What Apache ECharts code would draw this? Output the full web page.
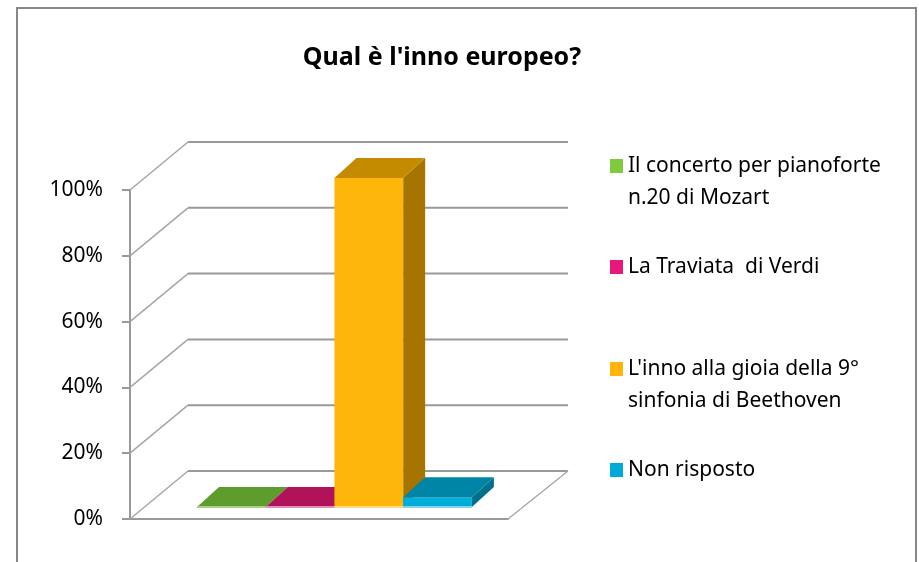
<!DOCTYPE html>
<html>
<head>
<meta charset="utf-8">
<script src="https://cdn.jsdelivr.net/npm/echarts@6/dist/echarts.min.js"></script>
<style>
  html, body { margin: 0; padding: 0; background: #fff; }
  #main { width: 919px; height: 562px; }
</style>
</head>
<body>
<div id="main"></div>
<script>
// dati
var titolo = "Qual è l'inno europeo?";
var risposte = [
    'Il concerto per pianoforte\nn.20 di Mozart',
    'La Traviata  di Verdi',
    "L'inno alla gioia della 9°\nsinfonia di Beethoven",
    'Non risposto'
];
var percentuali = [0, 0, 100, 3];
var tickY = [0, 20, 40, 60, 80, 100];

// colori: legenda, fronte, sopra, lato, bordo chiaro
var colori = [
    { leg: '#7fcb3d', front: '#6aa834', top: '#5f9c2e', side: '#4d8025', edge: '#aacf8c' },
    { leg: '#e8177b', front: '#c8146a', top: '#b1135b', side: '#8e0f49', edge: '#e08fb8' },
    { leg: '#ffb50a', front: '#ffb60a', top: '#c58b00', side: '#a67400', edge: '#ffd987' },
    { leg: '#00aad8', front: '#00acd8', top: '#0085a6', side: '#006f8c', edge: '#85d2ea' }
];

var X_MIN = -0.8, X_MAX = 4.7;
var DX = 58, DY = -48;      // profondita pareti
var FX = 12, FY = -12;      // piano frontale barre
var BDX = 22, BDY = -20;    // profondita barre
var legendCentri = [166, 267, 369, 470];

var main = echarts.init(document.getElementById('main'));

function pareti(params, api) {
    var v = api.value(1);
    var p0 = api.coord([X_MIN, v]);
    var p1 = api.coord([X_MAX, v]);
    var figli = [
        {
            type: 'line',
            shape: { x1: p0[0], y1: p0[1], x2: p0[0] + DX, y2: p0[1] + DY },
            style: { stroke: '#a6a6a6', lineWidth: 1.5 }
        },
        {
            type: 'line',
            shape: { x1: p0[0] + DX, y1: p0[1] + DY, x2: p1[0] + DX + 2, y2: p1[1] + DY },
            style: { stroke: '#999999', lineWidth: 2 }
        }
    ];
    if (v === 0) {
        figli.push({
            type: 'line',
            shape: { x1: p1[0], y1: p1[1], x2: p1[0] + DX + 2, y2: p1[1] + DY },
            style: { stroke: '#a6a6a6', lineWidth: 1.5 }
        });
    }
    return { type: 'group', children: figli };
}

function barra3d(c) {
    return function (params, api) {
        var i = api.value(0), v = api.value(1);
        var b = api.coord([i, 0]);
        var r = api.coord([i + 1, 0]);
        var t = api.coord([i, v]);
        var xL = b[0] + FX, xR = r[0] + FX;
        var yB = b[1] + FY, yT = t[1] + FY;
        return {
            type: 'group',
            children: [
                {
                    type: 'polygon',
                    shape: { points: [[xR, yT], [xR + BDX, yT + BDY], [xR + BDX, yB + BDY], [xR, yB]] },
                    style: { fill: c.side }
                },
                {
                    type: 'rect',
                    shape: { x: xL, y: yT, width: xR - xL, height: yB - yT },
                    style: { fill: c.front }
                },
                {
                    type: 'polygon',
                    shape: { points: [[xL, yT], [xR, yT], [xR + BDX, yT + BDY], [xL + BDX, yT + BDY]] },
                    style: { fill: c.top }
                },
                {
                    type: 'line',
                    shape: { x1: xL, y1: yB, x2: xR, y2: yB },
                    style: { stroke: c.edge, lineWidth: 2 }
                }
            ]
        };
    };
}

var serie = [{
    name: 'pareti',
    type: 'custom',
    silent: true,
    z: 1,
    renderItem: pareti,
    data: tickY.map(function (v) { return [X_MIN, v]; })
}];
risposte.forEach(function (nome, i) {
    serie.push({
        name: nome,
        type: 'custom',
        z: 2 + i,
        itemStyle: { color: colori[i].leg },
        renderItem: barra3d(colori[i]),
        data: [[i, percentuali[i]]]
    });
});

// una legenda per voce: per le voci su due righe si aggiunge una riga vuota
// in testa, cosi il quadratino resta allineato alla prima riga
var legende = risposte.map(function (nome, i) {
    var dueRighe = nome.indexOf('\n') >= 0;
    return {
        data: [nome],
        left: 610,
        top: legendCentri[i] - (dueRighe ? 48 : 16),
        padding: 0,
        icon: 'rect',
        itemWidth: 13,
        itemHeight: 14,
        selectedMode: false,
        formatter: function (n) { return dueRighe ? ' \n' + n : n; },
        textStyle: {
            fontFamily: 'Noto Sans',
            fontSize: 21,
            color: '#000',
            lineHeight: 32
        }
    };
});

option = {
    animation: false,
    title: {
        text: titolo,
        left: 442,
        top: 58,
        padding: 0,
        textAlign: 'center',
        textVerticalAlign: 'middle',
        textStyle: {
            fontFamily: 'Noto Sans',
            fontWeight: 'bold',
            fontSize: 25,
            color: '#000'
        }
    },
    legend: legende,
    graphic: [{
        type: 'rect',
        shape: { x: 17, y: 8, width: 899, height: 600 },
        style: { fill: 'none', stroke: '#888888', lineWidth: 2 },
        silent: true
    }],
    grid: {
        left: 130,
        top: 190,
        width: 378,
        height: 329
    },
    xAxis: {
        type: 'value',
        min: X_MIN,
        max: X_MAX,
        axisLine: { show: true, lineStyle: { color: '#999999', width: 2 } },
        axisTick: { show: false },
        axisLabel: { show: false },
        splitLine: { show: false }
    },
    yAxis: {
        type: 'value',
        min: 0,
        max: 100,
        interval: 20,
        axisLine: { show: true, onZero: false, lineStyle: { color: '#999999', width: 2 } },
        axisTick: { show: true, length: 8, lineStyle: { color: '#999999', width: 2 } },
        axisLabel: {
            formatter: '{value}%',
            margin: 27,
            fontFamily: 'Noto Sans',
            fontSize: 21,
            color: '#000'
        },
        splitLine: { show: false }
    },
    series: serie
};

main.setOption(option);
</script>
</body>
</html>
